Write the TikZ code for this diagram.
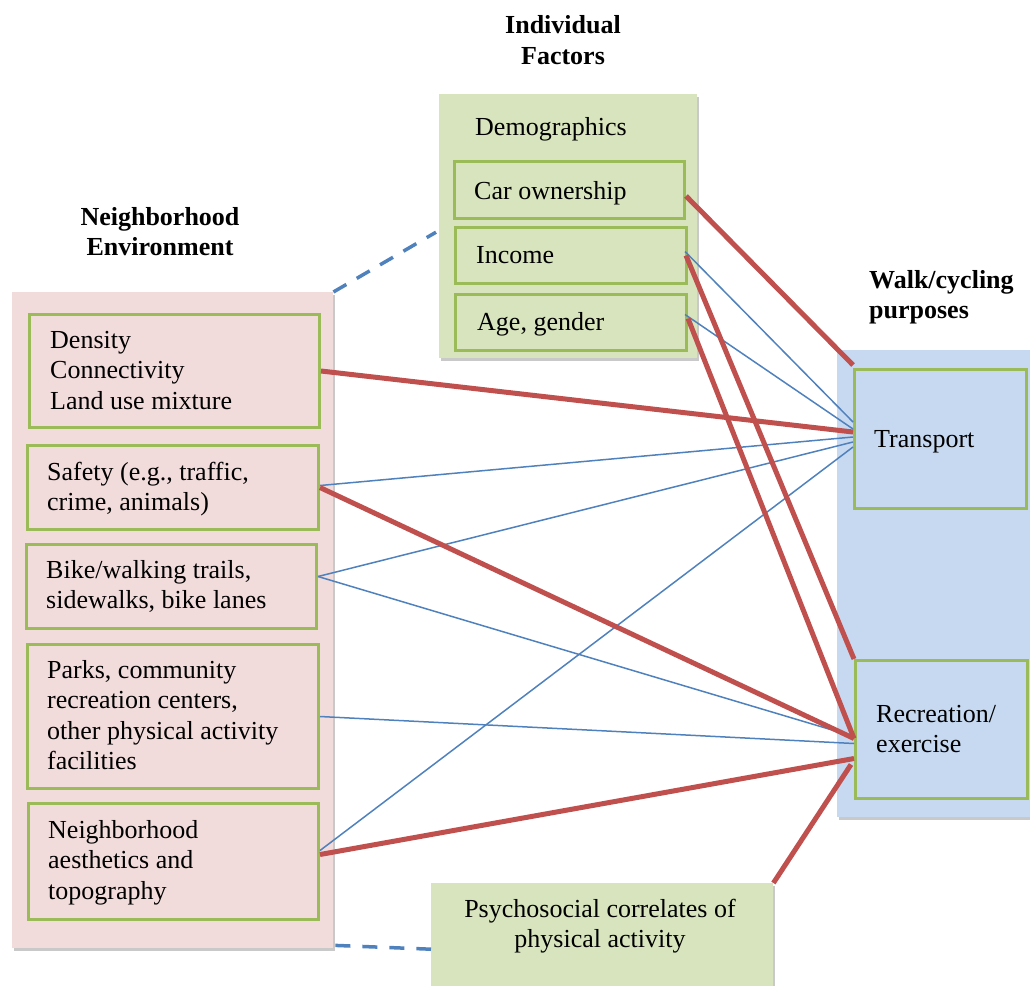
\documentclass[tikz,border=0pt]{standalone}
\usepackage{fontspec}
\setmainfont{Liberation Serif}
\usetikzlibrary{calc,shadows}
\definecolor{pinkfill}{HTML}{F2DCDB}
\definecolor{greenfill}{HTML}{D7E4BD}
\definecolor{bluefill}{HTML}{C6D9F1}
\definecolor{greenline}{HTML}{9BBB59}
\definecolor{redline}{HTML}{C0504D}
\definecolor{blueline}{HTML}{4F81BD}
\tikzset{
  outerbox/.style={draw=none, inner sep=0pt, anchor=north west,
    drop shadow={shadow xshift=2pt, shadow yshift=-2.5pt, opacity=0.3, fill=black!70}},
  innerbox/.style={draw=greenline, line width=3pt, inner sep=0pt, anchor=north west},
  txt/.style={font=\fontsize{26}{30.5}\selectfont, inner sep=0pt, align=left, anchor=base west},
  ttl/.style={font=\bfseries\fontsize{26}{30.5}\selectfont, inner sep=0pt},
  redl/.style={draw=redline, line width=5pt},
  bluel/.style={draw=blueline, line width=1.5pt},
  dashl/.style={draw=blueline, line width=3.5pt, dash pattern=on 15pt off 12pt}
}
\begin{document}
\begin{tikzpicture}[x=1pt,y=-1pt]
\useasboundingbox (0,0) rectangle (1030,985);
% outer boxes
\node[outerbox, fill=pinkfill, minimum width=321pt, minimum height=656pt] (nbh) at (12,292) {};
\node[outerbox, fill=greenfill, minimum width=258pt, minimum height=264pt] (ind) at (439,94) {};
\node[outerbox, fill=bluefill, minimum width=203pt, minimum height=467pt] (walk) at (837,350) {};
\node[outerbox, fill=greenfill, minimum width=342pt, minimum height=112pt] (psy) at (431,883) {};
% inner boxes
\node[innerbox, minimum width=290pt, minimum height=113pt] (den) at (28,313) {};
\node[innerbox, minimum width=291pt, minimum height=84pt] (saf) at (26,444) {};
\node[innerbox, minimum width=290pt, minimum height=84pt] (bike) at (25,543) {};
\node[innerbox, minimum width=291pt, minimum height=144pt] (parks) at (26,643) {};
\node[innerbox, minimum width=290pt, minimum height=116pt] (aes) at (27,802) {};
\node[innerbox, minimum width=230pt, minimum height=57pt] (car) at (453,160) {};
\node[innerbox, minimum width=231pt, minimum height=56pt] (inc) at (454,226) {};
\node[innerbox, minimum width=231pt, minimum height=56pt] (age) at (454,293) {};
\node[innerbox, minimum width=172pt, minimum height=139pt] (tr) at (853,368) {};
\node[innerbox, minimum width=172pt, minimum height=138pt] (rec) at (854,659) {};
% titles (multi-line nodes: base = last line's baseline)
\node[ttl, align=center, anchor=base] (tind) at (563,64) {Individual\\Factors};
\node[ttl, align=center, anchor=base] (tnbh) at (160,255.5) {Neighborhood\\Environment};
\node[ttl, align=left, anchor=base west] (twalk) at (869,318.5) {Walk/cycling\\purposes};
% texts
\node[txt] (tden) at (50,409) {Density\\Connectivity\\Land use mixture};
\node[txt] (tsaf) at (47,510.5) {Safety (e.g., traffic,\\crime, animals)};
\node[txt] (tbike) at (46,608.5) {Bike/walking trails,\\sidewalks, bike lanes};
\node[txt] (tparks) at (47,769.5) {Parks, community\\recreation centers,\\other physical activity\\facilities};
\node[txt] (taes) at (48,899) {Neighborhood\\aesthetics and\\topography};
\node[txt] (tdem) at (475,135) {Demographics};
\node[txt] (tcar) at (474,199) {Car ownership};
\node[txt] (tinc) at (476,263) {Income};
\node[txt] (tage) at (477,330) {Age, gender};
\node[txt] (ttr) at (874,447) {Transport};
\node[txt] (trec) at (876,752.5) {Recreation/\\exercise};
\node[txt, align=center, anchor=base] (tpsy) at (600,947.5) {Psychosocial correlates of\\physical activity};
% dashed links
\draw[dashl] (nbh.north east) -- ($(ind.west)+(-3,6)$);
\draw[dashl] ($(nbh.south east)+(2,-3)$) -- ($(psy.west)+(0,10)$);
% thin blue connectors
\draw[bluel] ($(inc.east)+(-3,-4)$) -- ($(tr.west)+(0,-17)$);
\draw[bluel] ($(age.east)+(-3,-8)$) -- ($(tr.west)+(0,-10)$);
\draw[bluel] ($(saf.east)+(0,-2)$) -- ($(tr.west)+(0,-2)$);
\draw[bluel] ($(bike.east)+(0,-10)$) -- ($(tr.west)+(0,3)$);
\draw[bluel] ($(aes.east)+(0,-11)$) -- ($(tr.west)+(0,8)$);
\draw[bluel] ($(bike.east)+(0,-10)$) -- ($(rec.west)+(0,7)$);
\draw[bluel] (parks.east) -- ($(rec.west)+(0,14)$);
% thick red connectors
\draw[redl] ($(car.east)+(0,6)$) -- ($(tr.north west)+(0,-3)$);
\draw[redl] (den.east) -- ($(tr.west)+(0,-7)$);
\draw[redl] ($(inc.east)+(-2,0)$) -- (rec.north west);
\draw[redl] ($(age.east)+(0,-4)$) -- ($(rec.west)+(0,9)$);
\draw[redl] (saf.east) -- ($(rec.west)+(0,9)$);
\draw[redl] ($(aes.east)+(0,-7)$) -- ($(rec.west)+(0,29)$);
\draw[redl] (psy.north east) -- ($(rec.west)+(-3,35)$);
\end{tikzpicture}
\end{document}
